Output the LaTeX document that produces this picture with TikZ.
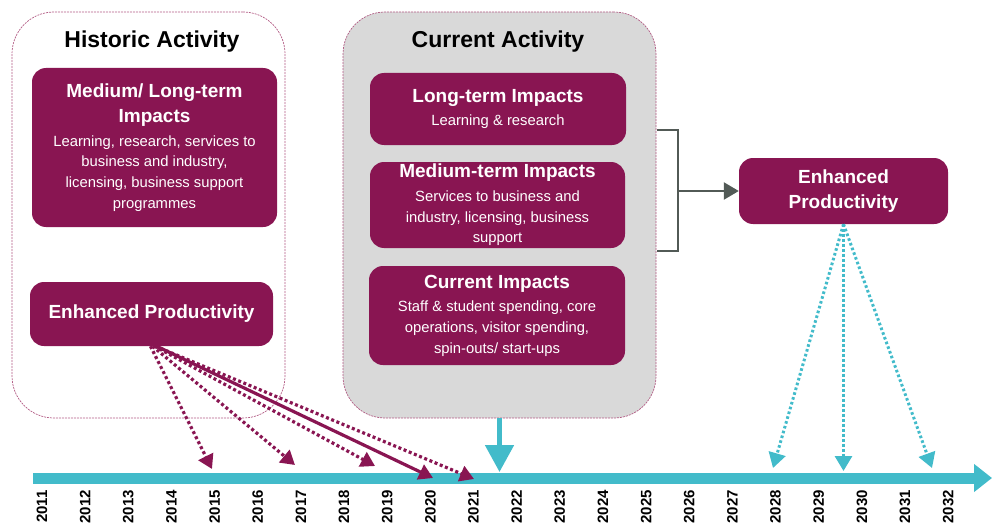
\documentclass[tikz,border=0pt]{standalone}
\usepackage{fontspec}
\setmainfont{Liberation Sans}
\usetikzlibrary{arrows.meta}

\definecolor{plum}{RGB}{137,21,82}
\definecolor{timeteal}{RGB}{66,187,202}
\definecolor{panelgray}{RGB}{217,217,217}
\definecolor{framepink}{RGB}{178,92,132}
\definecolor{bracketgray}{RGB}{82,90,86}

\newcommand*\impacthead{\fontsize{19}{24}\selectfont\bfseries}
\newcommand*\impactbody{\fontsize{14.8}{20.8}\selectfont}

\begin{document}
\begin{tikzpicture}[x=1pt,y=-1pt,
  panel/.style={draw=framepink, line width=0.7pt, dash pattern=on 2pt off 1pt,
    rounded corners=42pt, inner sep=0pt},
  paneltitle/.style={font=\fontsize{23}{27}\selectfont\bfseries, text=black, inner sep=0pt},
  impact/.style={fill=plum, text=white, rounded corners=14pt, inner sep=0pt,
    align=center, font=\impactbody},
  year/.style={rotate=90, anchor=east, inner sep=0pt,
    font=\fontsize{15}{15}\selectfont\bfseries},
  pastlink/.style={plum, line width=3.2pt, -{Triangle[length=14pt,width=16pt]}},
  pastdots/.style={pastlink, dash pattern=on 3pt off 2.6pt},
  futuredots/.style={timeteal, line width=3pt, dash pattern=on 2.6pt off 2.4pt,
    -{Triangle[length=15pt,width=17pt]}},
]
\useasboundingbox (0,0) rectangle (1000,524);

% activity panels
\node[panel, minimum width=273, minimum height=406] (hist) at (148.5,215) {};
\node[panel, fill=panelgray, minimum width=313, minimum height=406] (cur) at (499.5,215) {};
\node[paneltitle] (histtitle) at (152,42) {Historic Activity};
\node[paneltitle] (curtitle) at (498,42) {Current Activity};

% historic impacts
\node[impact, minimum width=245, minimum height=159] (mlt) at (154.5,147.5)
  {{\impacthead Medium/ Long-term}\\[4.5pt] {\impacthead Impacts}\\[3pt]
   Learning, research, services to\\ business and industry,\\
   licensing, business support\\ programmes};
\node[impact, minimum width=243, minimum height=64] (epl) at (151.5,314)
  {{\impacthead Enhanced Productivity}};

% current impacts
\node[impact, minimum width=256, minimum height=72] (lti) at (498,109)
  {{\impacthead Long-term Impacts}\\[2.5pt] Learning \& research};
\node[impact, minimum width=255, minimum height=86] (mti) at (497.5,205)
  {{\impacthead Medium-term Impacts}\\[2.5pt] Services to business and\\
   industry, licensing, business\\ support};
\node[impact, minimum width=256, minimum height=99] (cti) at (497,315.5)
  {{\impacthead Current Impacts}\\[2.5pt] Staff \& student spending, core\\
   operations, visitor spending,\\ spin-outs/ start-ups};

% future productivity
\node[impact, minimum width=209, minimum height=66] (epr) at (843.5,191)
  {{\impacthead Enhanced}\\[4.5pt] {\impacthead Productivity}};

% bracket gathering the current impacts
\coordinate (brtop0) at (657,130);
\coordinate (brtop1) at (678,130);
\coordinate (brbot1) at (678,251);
\coordinate (brbot0) at (657,251);
\coordinate (brmid) at (678,191);
\draw[bracketgray, line width=2.4pt] (brtop0) -- (brtop1) -- (brbot1) -- (brbot0);
\draw[bracketgray, line width=2.4pt, -{Triangle[length=15pt,width=17pt]}] (brmid) -- (epr.west);

% timeline
\coordinate (tlstart) at (33,478);
\coordinate (tlend) at (992,478);
\draw[timeteal, line width=11pt, -{Triangle[length=18pt,width=27pt]}] (tlstart) -- (tlend);
\foreach \i in {0,...,21} {
  \pgfmathsetmacro\yx{42+43.15*\i}
  \pgfmathtruncatemacro\yr{2011+\i}
  \node[year] (y\yr) at (\yx,490) {\yr};
}

% current activity feeds the present
\coordinate (nowpt) at (499.5,472);
\draw[timeteal, line width=5pt, -{Triangle[length=27pt,width=28pt]}] (cur.south) -- (nowpt);

% historic productivity spread over past years
\coordinate (p2015) at (212,469);
\coordinate (p2017) at (295,465);
\coordinate (p2019) at (375,466);
\coordinate (p2020) at (433,478);
\coordinate (p2021) at (474,479);
\draw[pastdots] ([xshift=-1pt]epl.south) -- (p2015);
\draw[pastdots] ([xshift=1pt]epl.south) -- (p2017);
\draw[pastdots] ([xshift=3pt]epl.south) -- (p2019);
\draw[pastlink] ([xshift=5pt]epl.south) -- (p2020);
\draw[pastdots] ([xshift=4pt]epl.south) -- (p2021);

% future productivity spread over coming years
\coordinate (f2028) at (773,468);
\coordinate (f2029) at (843.5,471);
\coordinate (f2031) at (932,468);
\draw[futuredots] (epr.south) -- (f2028);
\draw[futuredots] (epr.south) -- (f2029);
\draw[futuredots] (epr.south) -- (f2031);
\end{tikzpicture}
\end{document}
